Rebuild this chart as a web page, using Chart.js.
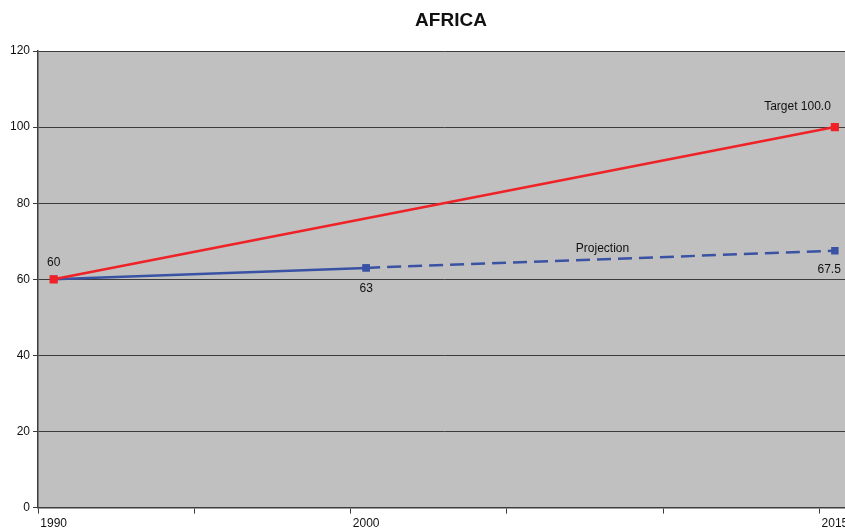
<!DOCTYPE html>
<html lang="en">
<head>
    <meta charset="UTF-8">
    <title>AFRICA</title>
    <style>
        html, body { margin: 0; padding: 0; background: #fff; overflow: hidden; }
        /* canvas is a bit bigger than the window so the right edge gets cut like the original */
        #wrap { width: 857px; height: 534px; }
    </style>
</head>
<body>
    <div id="wrap"><canvas id="chart" width="857" height="534"></canvas></div>
    <script src="https://cdn.jsdelivr.net/npm/chart.js"></script>
    <script>
        // data
        const years = [1990, 2000, 2015];
        const target = [60, null, 100];
        const actual = [60, 63, null];
        const projection = [null, 63, 67.5];
        const yTicks = [0, 20, 40, 60, 80, 100, 120];
        const xTickMarks = [1989.5, 1994.5, 1999.5, 2004.5, 2009.5, 2014.5];
        const xLabels = [1990, 2000, 2015];

        const red = '#EE2227';
        const blue = '#3A52A3';
        const axisColor = '#3c3c3c';

        function toPoints(values) {
            return years.map((y, i) => ({ x: y, y: values[i] })).filter(p => p.y !== null);
        }

        // grey plot background
        const plotBg = {
            id: 'plotBg',
            beforeDraw(chart) {
                const a = chart.chartArea;
                const ctx = chart.ctx;
                ctx.save();
                ctx.fillStyle = '#C0C0C0';
                ctx.fillRect(a.left, a.top, a.right - a.left, a.bottom - a.top);
                ctx.restore();
            }
        };

        // title + point labels
        const textLayer = {
            id: 'textLayer',
            afterDraw(chart) {
                const ctx = chart.ctx;
                const xs = chart.scales.x;
                const ys = chart.scales.y;
                ctx.save();
                ctx.fillStyle = '#111';
                ctx.font = 'bold 19px "Liberation Sans", Arial, sans-serif';
                ctx.textAlign = 'center';
                ctx.textBaseline = 'middle';
                ctx.fillText('AFRICA', 451, 21);

                ctx.font = '12px "Liberation Sans", Arial, sans-serif';
                const px = (i) => xs.getPixelForValue(years[i]);
                const py = (v) => ys.getPixelForValue(v);

                ctx.textAlign = 'center';
                ctx.fillText(String(actual[0]), px(0), py(actual[0]) - 17);
                ctx.fillText(String(actual[1]), px(1), py(actual[1]) + 21);
                ctx.textAlign = 'right';
                ctx.fillText('Target ' + target[2].toFixed(1), px(2) - 4, py(target[2]) - 20);
                ctx.fillText(String(projection[2]), px(2) + 6, py(projection[2]) + 19);
                ctx.textAlign = 'center';
                const midX = (px(1) + px(2)) / 2;
                const midY = (py(projection[1]) + py(projection[2])) / 2;
                ctx.fillText('Projection', midX + 2, midY - 11);
                ctx.restore();
            }
        };

        new Chart(document.getElementById('chart'), {
            type: 'line',
            data: {
                datasets: [
                    {
                        label: 'Target',
                        data: toPoints(target),
                        borderColor: red,
                        backgroundColor: red,
                        borderWidth: 2.5,
                        pointStyle: 'rect',
                        pointRadius: 4,
                        spanGaps: true
                    },
                    {
                        label: 'Actual',
                        data: toPoints(actual),
                        borderColor: blue,
                        backgroundColor: blue,
                        borderWidth: 2.5,
                        pointStyle: 'rect',
                        pointRadius: 3.5
                    },
                    {
                        label: 'Projection',
                        data: toPoints(projection),
                        borderColor: blue,
                        backgroundColor: blue,
                        borderWidth: 2.5,
                        borderDash: [14, 7],
                        pointStyle: 'rect',
                        pointRadius: 3.5
                    }
                ]
            },
            options: {
                responsive: false,
                animation: false,
                layout: { padding: { left: 7, top: 51, right: 0, bottom: 0 } },
                plugins: {
                    legend: { display: false },
                    tooltip: { enabled: false }
                },
                scales: {
                    x: {
                        type: 'linear',
                        min: 1989.5,
                        max: 2015.5,
                        afterBuildTicks(scale) {
                            const vals = xTickMarks.concat(xLabels).sort((a, b) => a - b);
                            scale.ticks = vals.map(v => ({ value: v }));
                        },
                        ticks: {
                            autoSkip: false,
                            maxRotation: 0,
                            color: '#111',
                            font: { family: '"Liberation Sans", Arial, sans-serif', size: 12 },
                            padding: 3,
                            callback: (v) => xLabels.includes(v) ? String(v) : ''
                        },
                        grid: {
                            drawOnChartArea: false,
                            tickLength: 6,
                            tickColor: (c) => (c.tick && xTickMarks.includes(c.tick.value)) ? axisColor : 'rgba(0,0,0,0)'
                        },
                        border: { color: axisColor, width: 1.5 }
                    },
                    y: {
                        min: 0,
                        max: 120,
                        afterBuildTicks(scale) {
                            scale.ticks = yTicks.map(v => ({ value: v }));
                        },
                        ticks: {
                            color: '#111',
                            font: { family: '"Liberation Sans", Arial, sans-serif', size: 12 },
                            padding: 3
                        },
                        grid: {
                            color: axisColor,
                            lineWidth: 1,
                            tickLength: 5
                        },
                        border: { color: axisColor, width: 1.5 }
                    }
                }
            },
            plugins: [plotBg, textLayer]
        });
    </script>
</body>
</html>
